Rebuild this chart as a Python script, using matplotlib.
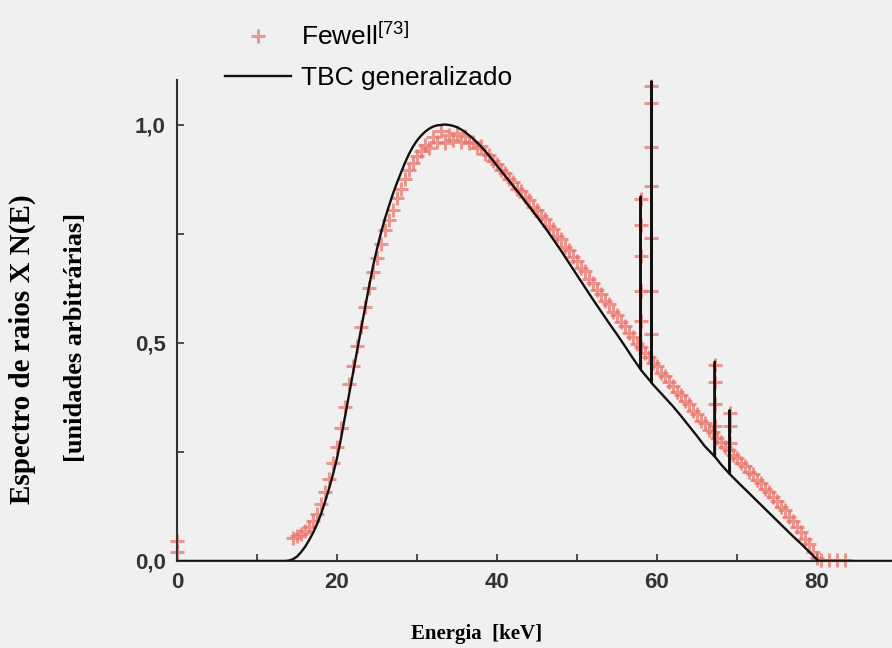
import matplotlib
matplotlib.use("Agg")
import matplotlib.pyplot as plt
from matplotlib.ticker import MultipleLocator, FixedFormatter, FixedLocator

# Curva TBC generalizado (energia em keV, N(E) normalizado)
tbc_e = [0.0, 13.5, 14.0, 14.5, 15.0, 15.5, 16.0, 16.5, 17.0, 17.5, 18.0, 18.5,
         19.0, 19.5, 20.0, 20.5, 21.0, 21.5, 22.0, 23.0, 24.0, 24.5, 25.0, 25.5,
         26.0, 26.5, 27.0, 27.5, 28.0, 28.5, 29.0, 29.5, 30.0, 30.5, 31.0, 31.5,
         32.0, 32.5, 33.0, 33.5, 34.0, 34.5, 35.0, 35.5, 36.0, 37.0, 38.0, 39.0,
         40.0, 41.0, 42.0, 43.0, 44.0, 45.0, 46.0, 47.0, 48.0, 49.0, 50.0, 51.0,
         52.0, 53.0, 54.0, 55.0, 56.0, 57.0, 57.95, 57.98, 58.01, 59.29, 59.32,
         59.35, 60.0, 61.0, 62.0, 63.0, 64.0, 65.0, 66.0, 67.21, 67.24, 67.27,
         68.0, 69.07, 69.1, 69.13, 70.0, 71.0, 72.0, 73.0, 74.0, 75.0, 76.0, 77.0,
         78.0, 79.0, 80.2, 89.5]
tbc_n = [0.0, 0.0, 0.001, 0.004, 0.01, 0.02, 0.032, 0.047, 0.064, 0.084, 0.107, 0.135,
         0.165, 0.198, 0.235, 0.28, 0.33, 0.38, 0.43, 0.53, 0.628, 0.675, 0.715, 0.752,
         0.785, 0.814, 0.842, 0.867, 0.89, 0.913, 0.933, 0.95, 0.964, 0.975, 0.984, 0.991,
         0.996, 0.999, 1.0, 1.001, 1.0, 0.998, 0.995, 0.99, 0.984, 0.969, 0.951, 0.93,
         0.907, 0.884, 0.861, 0.838, 0.814, 0.79, 0.765, 0.739, 0.712, 0.684, 0.656, 0.628,
         0.6, 0.573, 0.546, 0.52, 0.493, 0.465, 0.44, 0.836, 0.438, 0.41, 1.10,
         0.408, 0.395, 0.375, 0.355, 0.333, 0.31, 0.287, 0.263, 0.24, 0.457, 0.239,
         0.222, 0.2, 0.346, 0.199, 0.183, 0.165, 0.147, 0.129, 0.111, 0.093, 0.075, 0.057,
         0.04, 0.022, 0.0, 0.0]

# Dados de Fewell
fewell_e = [0.0, 0.0,
            14.5, 15.0, 15.5, 16.0, 16.5, 17.0, 17.5, 18.0, 18.5, 19.0, 19.5, 20.0,
            20.5, 21.0, 21.5, 22.0, 22.5, 23.0, 23.5, 24.0, 24.5, 25.0, 25.5, 26.0,
            26.5, 27.0, 27.5, 28.0, 28.5, 29.0, 29.5, 30.0, 30.5, 31.0, 31.5, 32.0,
            32.5, 33.0, 33.5, 34.0, 34.5, 35.0, 35.5, 36.0, 36.5, 37.0, 37.5, 38.0,
            38.5, 39.0, 39.5, 40.0, 40.5, 41.0, 41.5, 42.0, 42.5, 43.0, 43.5, 44.0,
            44.5, 45.0, 45.5, 46.0, 46.5, 47.0, 47.5, 48.0, 48.5, 49.0, 49.5, 50.0,
            50.5, 51.0, 51.5, 52.0, 52.5, 53.0, 53.5, 54.0, 54.5, 55.0, 55.5, 56.0,
            56.5, 57.0, 57.5, 58.0, 58.5, 59.0, 59.5, 60.0, 60.5, 61.0, 61.5, 62.0,
            62.5, 63.0, 63.5, 64.0, 64.5, 65.0, 65.5, 66.0, 66.5, 67.0, 67.5, 68.0,
            68.5, 69.0, 69.5, 70.0, 70.5, 71.0, 71.5, 72.0, 72.5, 73.0, 73.5, 74.0,
            74.5, 75.0, 75.5, 76.0, 76.5, 77.0, 77.5, 78.0, 78.5, 79.0, 79.5, 80.0,
            57.98, 57.98, 57.98, 57.98, 57.98,
            59.32, 59.32, 59.32, 59.32, 59.32, 59.32, 59.32,
            67.24, 67.24, 67.24, 67.24,
            69.1, 69.1, 69.1,
            80.5, 81.5, 82.5, 83.5]
fewell_n = [0.02, 0.045,
            0.052, 0.058, 0.061, 0.069, 0.078, 0.092, 0.108, 0.131, 0.158, 0.187, 0.224, 0.262,
            0.305, 0.352, 0.405, 0.447, 0.492, 0.536, 0.582, 0.625, 0.662, 0.694, 0.728, 0.758,
            0.781, 0.806, 0.832, 0.853, 0.876, 0.897, 0.912, 0.928, 0.941, 0.955, 0.948, 0.972,
            0.962, 0.985, 0.958, 0.978, 0.966, 0.981, 0.962, 0.975, 0.958, 0.962, 0.947, 0.951,
            0.934, 0.931, 0.918, 0.910, 0.897, 0.889, 0.876, 0.869, 0.853, 0.849, 0.834, 0.828,
            0.812, 0.806, 0.791, 0.784, 0.768, 0.762, 0.745, 0.738, 0.721, 0.713, 0.697, 0.689,
            0.672, 0.664, 0.647, 0.638, 0.622, 0.613, 0.597, 0.589, 0.571, 0.563, 0.547, 0.538,
            0.522, 0.514, 0.497, 0.491, 0.478, 0.468, 0.455, 0.448, 0.432, 0.424, 0.410, 0.402,
            0.388, 0.381, 0.366, 0.359, 0.344, 0.337, 0.322, 0.316, 0.301, 0.295, 0.281, 0.274,
            0.262, 0.254, 0.243, 0.236, 0.224, 0.217, 0.205, 0.199, 0.186, 0.179, 0.166, 0.158,
            0.146, 0.137, 0.124, 0.116, 0.101, 0.092, 0.077, 0.066, 0.051, 0.038, 0.021, 0.006,
            0.55, 0.62, 0.70, 0.77, 0.83,
            0.52, 0.62, 0.74, 0.86, 0.95, 1.05, 1.09,
            0.31, 0.36, 0.41, 0.45,
            0.27, 0.31, 0.34,
            0.003, 0.003, 0.003, 0.003]

x_ticks = [0, 20, 40, 60, 80]
y_ticks = [0.0, 0.5, 1.0]
y_labels = ["0,0", "0,5", "1,0"]

bg = "#f0f0f0"
plt.rcParams["font.family"] = ["Liberation Sans", "DejaVu Sans"]
plt.rcParams["mathtext.default"] = "regular"

fig = plt.figure(figsize=(8.92, 6.48), dpi=100, facecolor=bg)
ax = fig.add_axes([0.1984, 0.1343, 0.8016, 0.7422], facecolor=bg)

pts, = ax.plot(fewell_e, fewell_n, linestyle="none", marker="+", markersize=10,
               mew=2.2, color="#e8736a", alpha=0.72, clip_on=False, zorder=2)
linha, = ax.plot(tbc_e, tbc_n, color="#141010", lw=1.7, zorder=3)

ax.set_xlim(0, 89.4)
ax.set_ylim(0, 1.103)

for s in ("top", "right"):
    ax.spines[s].set_visible(False)
for s in ("left", "bottom"):
    ax.spines[s].set_color("#303030")
    ax.spines[s].set_linewidth(1.5)

ax.xaxis.set_major_locator(FixedLocator(x_ticks))
ax.xaxis.set_minor_locator(MultipleLocator(10))
ax.yaxis.set_major_locator(FixedLocator(y_ticks))
ax.yaxis.set_major_formatter(FixedFormatter(y_labels))
ax.yaxis.set_minor_locator(MultipleLocator(0.25))
ax.tick_params(which="both", direction="in", length=5, width=1.2, color="#303030")
ax.tick_params(axis="both", which="major", labelsize=16, labelcolor="#333333", pad=8)
for lab in ax.get_xticklabels() + ax.get_yticklabels():
    lab.set_fontweight("bold")

# rotulos dos eixos
serif = {"family": "Liberation Serif", "weight": "bold", "size": 15}
fig.text(0.025, 0.461, "Espectro de raios X N(E)", rotation=90, ha="center",
         va="center", fontdict=dict(serif, size=21))
fig.text(0.085, 0.48, "[unidades arbitrárias]", rotation=90, ha="center",
         va="center", fontdict=dict(serif, size=19))
fig.text(0.534, 0.022, "Energia  [keV]", ha="center", va="center", fontdict=serif)

fig.legend([pts, linha], ["Fewell$^{[73]}$", "TBC generalizado"],
           loc="upper left", bbox_to_anchor=(0.238, 0.985), frameon=False,
           fontsize=19, handlelength=2.5, handletextpad=0.35, labelspacing=0.6,
           borderpad=0)

fig.savefig("out.png", dpi=100, facecolor=bg)
